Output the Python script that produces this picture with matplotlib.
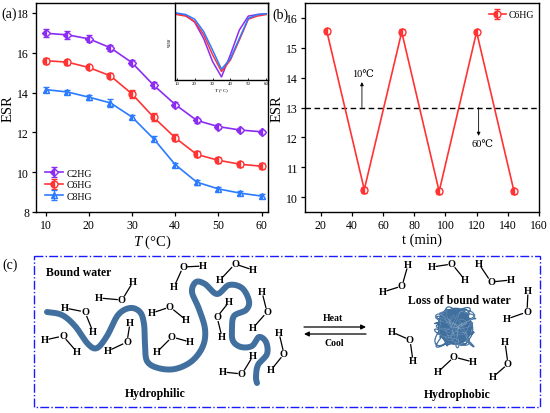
import numpy as np
import matplotlib
matplotlib.use('Agg')
import matplotlib.pyplot as plt
from matplotlib.patches import Rectangle, Ellipse

plt.rcParams['font.family'] = ['Liberation Serif', 'DejaVu Serif', 'DejaVu Sans']
plt.rcParams['mathtext.fontset'] = 'custom'
plt.rcParams['mathtext.rm'] = 'Liberation Serif'
plt.rcParams['mathtext.it'] = 'Liberation Serif:italic'

# ---------------- data ----------------
temps = [10, 15, 20, 25, 30, 35, 40, 45, 50, 55, 60]
esr_c2 = [16.98, 16.90, 16.70, 16.25, 15.50, 14.37, 13.40, 12.60, 12.29, 12.12, 12.03]
esr_c6 = [15.60, 15.53, 15.26, 14.84, 13.93, 12.76, 11.73, 10.89, 10.60, 10.40, 10.30]
esr_c8 = [14.15, 14.03, 13.77, 13.48, 12.77, 11.68, 10.38, 9.50, 9.16, 8.95, 8.80]
err_c2 = [0.20, 0.20, 0.18, 0.15, 0.12, 0.15, 0.12, 0.12, 0.12, 0.12, 0.10]
err_c6 = [0.15, 0.12, 0.10, 0.12, 0.20, 0.20, 0.18, 0.15, 0.15, 0.12, 0.15]
err_c8 = [0.12, 0.12, 0.12, 0.18, 0.12, 0.12, 0.10, 0.12, 0.10, 0.10, 0.12]
series_labels = ['C2HG', 'C6HG', 'C8HG']

# inset (normalised derivative curves)
inset_c2 = [0.86, 0.84, 0.75, 0.54, 0.24, 0.04, 0.33, 0.65, 0.83, 0.85, 0.86]
inset_c6 = [0.85, 0.83, 0.76, 0.59, 0.33, 0.11, 0.26, 0.52, 0.79, 0.83, 0.85]
inset_c8 = [0.87, 0.85, 0.79, 0.63, 0.39, 0.14, 0.28, 0.54, 0.80, 0.85, 0.86]

# panel (b)
cycle_t = [24, 48, 72, 96, 120, 144]
cycle_esr = [15.55, 10.25, 15.53, 10.19, 15.53, 10.19]
cycle_err = [0.08, 0.10, 0.10, 0.08, 0.08, 0.08]
threshold = 13

colors = ['#8C2CF0', '#FF3333', '#2B7BFF']
markers = ['D', 'o', '^']
chain_color = '#41709F'

fig = plt.figure(figsize=(5.5, 4.14), dpi=100)

# ---------------- panel (c) schematic (pixel coordinates) ----------------
axc = fig.add_axes([0, 0, 1, 1])
axc.set_xlim(0, 550)
axc.set_ylim(414, 0)
axc.axis('off')

axc.add_patch(Rectangle((34, 257), 506, 151, fill=False, ec='#1A1AFF',
                        lw=1.0, ls='-.'))

chain = np.array([(47, 313), (62, 316), (75, 327), (88, 345), (97, 349), (107, 337),
                  (118, 316), (130, 309), (140, 313), (144, 325), (145, 345), (147, 362),
                  (158, 369), (175, 370), (192, 362), (203, 347), (205, 330), (199, 310),
                  (192, 293), (196, 283), (205, 285), (217, 295), (229, 286), (242, 289),
                  (249, 302), (246, 311), (234, 317), (232, 330), (233, 342), (241, 348),
                  (252, 347), (259, 338), (266, 343), (267, 355), (258, 366), (256, 378),
                  (257, 384)], dtype=float)


def catmull(p, n=12):
    pts = np.vstack([p[0], p, p[-1]])
    out = []
    for i in range(1, len(pts) - 2):
        p0, p1, p2, p3 = pts[i - 1], pts[i], pts[i + 1], pts[i + 2]
        for s in np.linspace(0, 1, n, endpoint=False):
            out.append(0.5 * ((2 * p1) + (-p0 + p2) * s + (2 * p0 - 5 * p1 + 4 * p2 - p3) * s ** 2
                              + (-p0 + 3 * p1 - 3 * p2 + p3) * s ** 3))
    out.append(pts[-2])
    return np.array(out)


sm = catmull(chain)
axc.plot(sm[:, 0], sm[:, 1], color=chain_color, lw=4.3, solid_capstyle='round',
         solid_joinstyle='round')

# coil (tangled globule drawn as a scribble of incommensurate sinusoids)
axc.add_patch(Ellipse((455, 328), 34, 36, angle=-10, color=chain_color, lw=0))
tt = np.linspace(0, 90, 6000)
cx = 455 + 11 * np.sin(1.13 * tt) + 7 * np.sin(2.71 * tt + 0.6) + 3 * np.sin(5.3 * tt)
cy = 328 + 11 * np.sin(1.41 * tt + 1.1) + 7 * np.sin(2.29 * tt + 2.0) + 3 * np.sin(4.7 * tt + 0.4)
axc.plot(cx, cy, color=chain_color, lw=0.9)
axc.plot(cx[::7][:250], cy[::7][:250], color='white', lw=0.3, alpha=0.3)

waters = [
    ((122, 301), (99, 299), (133, 283)),
    ((183, 268), (203, 267), (174, 288)),
    ((235, 265), (253, 271), (220, 281)),
    ((170, 308), (152, 314), (186, 321)),
    ((85, 313), (65, 309), (93, 333)),
    ((267, 313), (262, 293), (253, 329)),
    ((217, 318), (229, 303), (222, 338)),
    ((63, 337), (45, 341), (77, 353)),
    ((127, 343), (130, 324), (108, 352)),
    ((172, 338), (190, 343), (157, 353)),
    ((242, 375), (253, 357), (223, 373)),
    ((284, 355), (279, 334), (271, 371)),
    ((402, 287), (408, 266), (383, 293)),
    ((452, 265), (432, 268), (465, 281)),
    ((491, 283), (479, 265), (511, 281)),
    ((527, 313), (528, 292), (507, 320)),
    ((410, 341), (392, 333), (413, 362)),
    ((454, 358), (473, 363), (438, 373)),
    ((508, 365), (505, 343), (493, 378)),
]
for O, H1, H2 in waters:
    O = np.array(O, float)
    axc.text(O[0], O[1], 'O', ha='center', va='center', fontsize=7.5, fontweight='bold')
    for H in (H1, H2):
        H = np.array(H, float)
        d = (H - O) / np.linalg.norm(H - O)
        a = O + d * 4.8
        b = H - d * 4.2
        axc.plot([a[0], b[0]], [a[1], b[1]], color='black', lw=0.9)
        axc.text(H[0], H[1], 'H', ha='center', va='center', fontsize=7.5, fontweight='bold')

axc.text(79, 273, 'Bound water', ha='center', va='center', fontsize=8.5, fontweight='bold')
axc.text(459, 301, 'Loss of bound water', ha='center', va='center', fontsize=8.5, fontweight='bold')
axc.text(155, 394, 'Hydrophilic', ha='center', va='center', fontsize=8.5, fontweight='bold')
axc.text(457, 395, 'Hydrophobic', ha='center', va='center', fontsize=8.5, fontweight='bold')
axc.text(333, 319, 'Heat', ha='center', va='center', fontsize=7, fontweight='bold')
axc.text(334, 344, 'Cool', ha='center', va='center', fontsize=7, fontweight='bold')
axc.annotate('', xy=(366, 328), xytext=(304, 328),
             arrowprops=dict(arrowstyle='-|>', color='black', lw=0.9,
                             mutation_scale=7, shrinkA=0, shrinkB=0))
axc.annotate('', xy=(304, 335), xytext=(366, 335),
             arrowprops=dict(arrowstyle='-|>', color='black', lw=0.9,
                             mutation_scale=7, shrinkA=0, shrinkB=0))
axc.text(10, 265, '(c)', ha='center', va='center', fontsize=10)
axc.text(9, 14, '(a)', ha='center', va='center', fontsize=10)
axc.text(280, 15, '(b)', ha='center', va='center', fontsize=10)

# ---------------- panel (a) ----------------
axa = fig.add_axes([36 / 550, 1 - 213 / 414, 232 / 550, 209 / 414])
for y, e, c, m, lab in zip([esr_c2, esr_c6, esr_c8], [err_c2, err_c6, err_c8], colors,
                           markers, series_labels):
    axa.errorbar(temps, y, yerr=e, color=c, lw=1.2, marker=m,
                 ms=5 if m != 'D' else 4.3, mfc=c, mec=c, fillstyle='left', mfcalt='white',
                 mew=1.0, capsize=2, elinewidth=0.9, capthick=0.9, label=lab)
axa.set_xlim(7.75, 61.5)
axa.set_ylim(8, 18.5)
axa.set_xticks([10, 20, 30, 40, 50, 60])
axa.set_yticks([8, 10, 12, 14, 16, 18])
axa.tick_params(direction='out', length=3, width=0.9, labelsize=8.5, pad=2)
axa.set_xlabel(r'$T$ (°C)', fontsize=10.5, labelpad=1)
axa.set_ylabel('ESR', fontsize=10.5, labelpad=2)
for s in axa.spines.values():
    s.set_linewidth(1.0)
axa.legend(loc='lower left', bbox_to_anchor=(0.04, 0.055), frameon=False, fontsize=7,
           handlelength=1.8, handletextpad=0.4, labelspacing=0.25, borderpad=0,
           borderaxespad=0)

# inset
axi = fig.add_axes([175 / 550, 1 - 81 / 414, 93 / 550, 77 / 414])
for y, c in zip([inset_c2, inset_c6, inset_c8], colors):
    axi.plot(temps, y, color=c, lw=1.1)
axi.set_xlim(9, 61)
axi.set_ylim(0, 1)
axi.set_xticks([10, 20, 30, 40, 50, 60])
axi.set_yticks([])
axi.tick_params(direction='in', length=1.5, width=0.6, labelsize=3.5, pad=1)
axi.set_xlabel(r'$T$ (°C)', fontsize=3.8, labelpad=0.5)
axi.set_ylabel(r'$\eta_{ESR}$', fontsize=3.8, labelpad=1)
for s in axi.spines.values():
    s.set_linewidth(1.0)

# ---------------- panel (b) ----------------
axb = fig.add_axes([305 / 550, 1 - 213 / 414, 234 / 550, 209 / 414])
axb.errorbar(cycle_t, cycle_esr, yerr=cycle_err, color=colors[1], lw=1.2, marker='o',
             ms=5, mfc=colors[1], mec=colors[1], fillstyle='left', mfcalt='white',
             mew=1.0, capsize=2, elinewidth=0.9, capthick=0.9, label='C6HG')
axb.axhline(threshold, color='black', ls=(0, (4, 2.5)), lw=1.0)
axb.annotate('', xy=(46.5, 13.85), xytext=(46.5, threshold),
             arrowprops=dict(arrowstyle='-|>', color='black', lw=0.6, mutation_scale=5,
                             shrinkA=0, shrinkB=0))
axb.annotate('', xy=(121.3, 12.05), xytext=(121.3, threshold),
             arrowprops=dict(arrowstyle='-|>', color='black', lw=0.6, mutation_scale=5,
                             shrinkA=0, shrinkB=0))
axb.text(47.5, 14.0, '10℃', ha='center', va='bottom', fontsize=7.5)
axb.text(124, 11.8, '60℃', ha='center', va='center', fontsize=7.5)
axb.set_xlim(10, 160)
axb.set_ylim(9.5, 16.5)
axb.set_xticks([20, 40, 60, 80, 100, 120, 140, 160])
axb.set_yticks([10, 11, 12, 13, 14, 15, 16])
axb.tick_params(direction='out', length=3, width=0.9, labelsize=8.5, pad=2)
axb.set_xlabel('t (min)', fontsize=10.5, labelpad=1)
axb.set_ylabel('ESR', fontsize=10.5, labelpad=2)
for s in axb.spines.values():
    s.set_linewidth(1.0)
axb.legend(loc='upper right', bbox_to_anchor=(0.98, 0.965), frameon=False, fontsize=7,
           handlelength=1.8, handletextpad=0.3, borderpad=0, borderaxespad=0)

fig.savefig('out.png', dpi=100)
